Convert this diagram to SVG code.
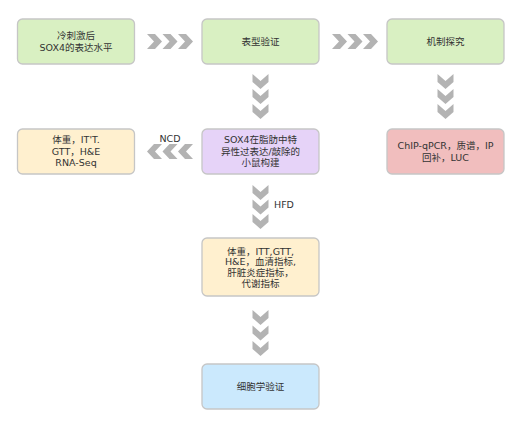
<svg xmlns="http://www.w3.org/2000/svg" width="521" height="427" viewBox="0 0 521 427">
<defs>
<style>
.box{stroke:#c6c6c6;stroke-width:1.3}
.g{fill:#d9f0c2}
.y{fill:#fff0cf}
.p{fill:#e6d3f8}
.r{fill:#f1bebe}
.b{fill:#cbe9fd}
text{font-family:"DejaVu Sans","Noto Sans CJK SC",sans-serif;font-size:9.5px;fill:#333;text-anchor:middle}
.lbl{text-anchor:start}
.chev{fill:#b3b3b3}
</style>
<polygon id="cr" points="0,0 8,0 15,7.5 8,15 0,15 7,7.5"/>
<polygon id="cl" points="15,0 7,0 0,7.5 7,15 15,15 8,7.5"/>
<polygon id="cd" points="0,0 8,7 16,0 16,8 8,15 0,8"/>
</defs>
<rect width="521" height="427" fill="#fff"/>
<g id="connectors">
<g class="chev">
<use href="#cr" x="147" y="34"/><use href="#cr" x="162.5" y="34"/><use href="#cr" x="178" y="34"/>
<use href="#cr" x="332" y="34"/><use href="#cr" x="347.5" y="34"/><use href="#cr" x="363" y="34"/>
<use href="#cd" x="252.5" y="74"/><use href="#cd" x="252.5" y="89"/><use href="#cd" x="252.5" y="104"/>
<use href="#cd" x="437.5" y="74"/><use href="#cd" x="437.5" y="89"/><use href="#cd" x="437.5" y="104"/>
<use href="#cl" x="147" y="144"/><use href="#cl" x="162.5" y="144"/><use href="#cl" x="178" y="144"/>
<use href="#cd" x="252.5" y="185"/><use href="#cd" x="252.5" y="199.5"/><use href="#cd" x="252.5" y="214"/>
<use href="#cd" x="252.5" y="310"/><use href="#cd" x="252.5" y="325.5"/><use href="#cd" x="252.5" y="341"/>
</g>
<text x="170" y="142">NCD</text>
<text class="lbl" x="274" y="207.5">HFD</text>
</g>
<g id="n1"><rect class="box g" x="17.5" y="19" width="117" height="45" rx="5"/>
<text x="76" y="39">冷刺激后</text><text x="76" y="51">SOX4的表达水平</text></g>
<g id="n2"><rect class="box g" x="202" y="19" width="117" height="45" rx="5"/>
<text x="260.5" y="45">表型验证</text></g>
<g id="n3"><rect class="box g" x="387" y="19" width="117" height="45" rx="5"/>
<text x="445.5" y="45">机制探究</text></g>
<g id="n4"><rect class="box y" x="17.5" y="129" width="117" height="45" rx="5"/>
<text x="76" y="143">体重，IT'T.</text><text x="76" y="154.5">GTT，H&amp;E</text><text x="76" y="166">RNA-Seq</text></g>
<g id="n5"><rect class="box p" x="202" y="129" width="117" height="45" rx="5"/>
<text x="260.5" y="143">SOX4在脂肪中特</text><text x="260.5" y="154.5">异性过表达/敲除的</text><text x="260.5" y="166">小鼠构建</text></g>
<g id="n6"><rect class="box r" x="387" y="129" width="117" height="45" rx="5"/>
<text x="445.5" y="149">ChIP-qPCR，质谱，IP</text><text x="445.5" y="160.5">回补，LUC</text></g>
<g id="n7"><rect class="box y" x="202" y="238" width="117" height="58" rx="5"/>
<text x="260.5" y="254.5">体重，ITT,GTT,</text><text x="260.5" y="265.2">H&amp;E，血清指标,</text><text x="260.5" y="275.9">肝脏炎症指标，</text><text x="260.5" y="286.6">代谢指标</text></g>
<g id="n8"><rect class="box b" x="202" y="364" width="117" height="45" rx="5"/>
<text x="260.5" y="390">细胞学验证</text></g>
</svg>
